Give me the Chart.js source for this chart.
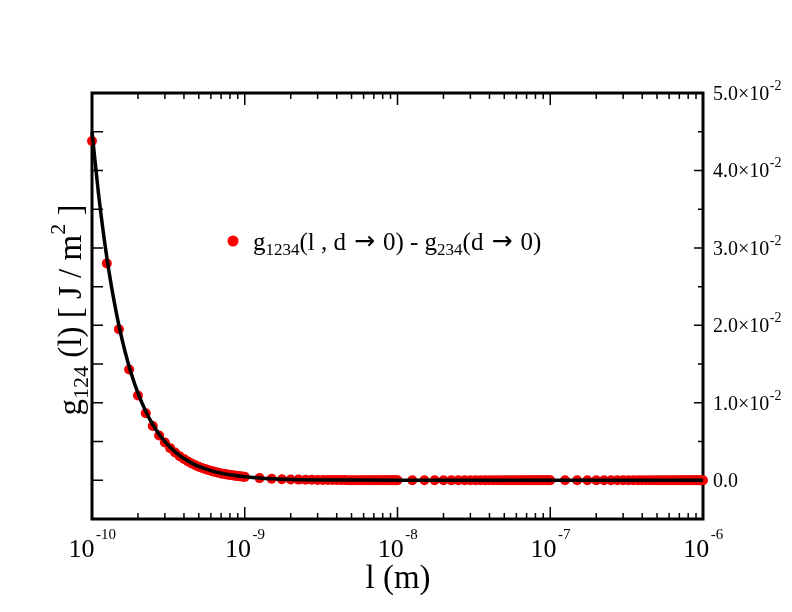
<!DOCTYPE html>
<html>
<head>
<meta charset="utf-8">
<script src="https://cdn.jsdelivr.net/npm/chart.js@4.4.1/dist/chart.umd.min.js"></script>
<style>
  html, body { margin: 0; padding: 0; background: #fff; }
</style>
</head>
<body>
<canvas id="myChart" width="792" height="612"></canvas>
<script>
// red symbols: g1234(l, d->0) - g234(d->0)
const lengthPoints = [
  1e-10, 1.25e-10, 1.5e-10, 1.75e-10, 2e-10, 2.25e-10, 2.5e-10, 2.75e-10, 3e-10, 3.25e-10, 3.5e-10, 3.75e-10,
  4e-10, 4.25e-10, 4.5e-10, 4.75e-10, 5e-10, 5.25e-10, 5.5e-10, 5.75e-10, 6e-10, 6.25e-10, 6.5e-10, 6.75e-10,
  7e-10, 7.25e-10, 7.5e-10, 7.75e-10, 8e-10, 8.25e-10, 8.5e-10, 8.75e-10, 9e-10, 9.25e-10, 9.5e-10, 9.75e-10,
  1e-9, 1.25e-9, 1.5e-9, 1.75e-9, 2e-9, 2.25e-9, 2.5e-9, 2.75e-9, 3e-9, 3.25e-9, 3.5e-9, 3.75e-9,
  4e-9, 4.25e-9, 4.5e-9, 4.75e-9, 5e-9, 5.25e-9, 5.5e-9, 5.75e-9, 6e-9, 6.25e-9, 6.5e-9, 6.75e-9,
  7e-9, 7.25e-9, 7.5e-9, 7.75e-9, 8e-9, 8.25e-9, 8.5e-9, 8.75e-9, 9e-9, 9.25e-9, 9.5e-9, 9.75e-9,
  1e-8, 1.25e-8, 1.5e-8, 1.75e-8, 2e-8, 2.25e-8, 2.5e-8, 2.75e-8, 3e-8, 3.25e-8, 3.5e-8, 3.75e-8,
  4e-8, 4.25e-8, 4.5e-8, 4.75e-8, 5e-8, 5.25e-8, 5.5e-8, 5.75e-8, 6e-8, 6.25e-8, 6.5e-8, 6.75e-8,
  7e-8, 7.25e-8, 7.5e-8, 7.75e-8, 8e-8, 8.25e-8, 8.5e-8, 8.75e-8, 9e-8, 9.25e-8, 9.5e-8, 9.75e-8,
  1e-7, 1.25e-7, 1.5e-7, 1.75e-7, 2e-7, 2.25e-7, 2.5e-7, 2.75e-7, 3e-7, 3.25e-7, 3.5e-7, 3.75e-7,
  4e-7, 4.25e-7, 4.5e-7, 4.75e-7, 5e-7, 5.25e-7, 5.5e-7, 5.75e-7, 6e-7, 6.25e-7, 6.5e-7, 6.75e-7,
  7e-7, 7.25e-7, 7.5e-7, 7.75e-7, 8e-7, 8.25e-7, 8.5e-7, 8.75e-7, 9e-7, 9.25e-7, 9.5e-7, 9.75e-7,
  1e-6
];
const gPoints = [
  0.0438, 0.0280, 0.0195, 0.0143, 0.01095, 0.00865, 0.00701, 0.00579, 0.00487, 0.00415, 0.00358, 0.00311,
  0.00274, 0.00242, 0.00216, 0.00194, 0.00175, 0.00159, 0.00145, 0.00132, 0.00122, 0.00112, 0.00104, 0.00096,
  0.00089, 0.00083, 0.00078, 0.00073, 0.00068, 0.00064, 0.00061, 0.00057, 0.00054, 0.00051, 0.00049, 0.00046,
  4.4e-4, 2.8e-4, 1.95e-4, 1.43e-4, 1.1e-4, 8.7e-5, 7e-5, 5.8e-5, 4.9e-5, 4.1e-5, 3.6e-5, 3.1e-5,
  2.7e-5, 2.4e-5, 2.2e-5, 1.9e-5, 1.8e-5, 1.6e-5, 1.4e-5, 1.3e-5, 1.2e-5, 1.1e-5, 1e-5, 1e-5,
  9e-6, 8e-6, 8e-6, 7e-6, 7e-6, 6e-6, 6e-6, 6e-6, 5e-6, 5e-6, 5e-6, 5e-6,
  0, 0, 0, 0, 0, 0, 0, 0, 0, 0, 0, 0,
  0, 0, 0, 0, 0, 0, 0, 0, 0, 0, 0, 0,
  0, 0, 0, 0, 0, 0, 0, 0, 0, 0, 0, 0,
  0, 0, 0, 0, 0, 0, 0, 0, 0, 0, 0, 0,
  0, 0, 0, 0, 0, 0, 0, 0, 0, 0, 0, 0,
  0, 0, 0, 0, 0, 0, 0, 0, 0, 0, 0, 0,
  0
];

// black curve
const lengthFit = [1e-10, 1.1e-10, 1.2e-10, 1.3e-10, 1.4e-10, 1.5e-10, 1.65e-10, 1.8e-10, 2e-10, 2.25e-10,
  2.5e-10, 2.75e-10, 3e-10, 3.5e-10, 4e-10, 4.5e-10, 5e-10, 6e-10, 7e-10, 8e-10, 1e-9, 1.3e-9, 1.6e-9,
  2e-9, 3e-9, 5e-9, 1e-8, 1e-7, 1e-6];
const gFit = [0.0450, 0.0372, 0.03125, 0.02663, 0.02296, 0.0200, 0.01653, 0.01389, 0.01125, 0.00889,
  0.0072, 0.00595, 0.0050, 0.00367, 0.00281, 0.00222, 0.0018, 0.00125, 0.00092, 0.0007, 0.00045, 0.00027, 0.00018,
  0.00011, 0.00005, 0.00002, 0.0000045, 0, 0];

const xDecades = [-10, -9, -8, -7, -6];
const yTicks = [0, 0.01, 0.02, 0.03, 0.04, 0.05];
const yTickText = ['0.0', '1.0', '2.0', '3.0', '4.0', '5.0'];

const serif = '"Liberation Serif", "Times New Roman", serif';
const arrowFont = '"DejaVu Sans", sans-serif';

// draw a run of text pieces {t, size, dy, gap, font} starting at x (or centred)
function drawParts(c, parts, x, y, align) {
  let total = 0;
  parts.forEach((p) => {
    c.font = p.size + 'px ' + (p.font || serif);
    p.w = c.measureText(p.t).width + (p.gap || 0);
    total += p.w;
  });
  let cx = align === 'center' ? x - total / 2 : x;
  parts.forEach((p) => {
    c.font = p.size + 'px ' + (p.font || serif);
    c.fillText(p.t, cx + (p.gap || 0) / 2, y + (p.dy || 0));
    cx += p.w;
  });
}

const decorations = {
  id: 'decorations',
  beforeDatasetsDraw(chart) {
    const c = chart.ctx;
    const a = chart.chartArea;
    c.save();
    c.strokeStyle = '#000';
    c.lineWidth = 3;
    c.strokeRect(a.left, a.top, a.right - a.left, a.bottom - a.top);
    c.restore();
  },
  afterDatasetsDraw(chart) {
    const c = chart.ctx;
    const a = chart.chartArea;
    const xs = chart.scales.x;
    const ys = chart.scales.y;
    c.save();
    c.strokeStyle = '#000';
    c.fillStyle = '#000';
    c.lineWidth = 1.5;
    c.textBaseline = 'alphabetic';
    c.textAlign = 'left';

    // x ticks, top and bottom, pointing in
    xDecades.forEach((d, i) => {
      const base = Math.pow(10, d);
      const px = xs.getPixelForValue(base);
      c.beginPath();
      c.moveTo(px, a.bottom); c.lineTo(px, a.bottom - 12);
      c.moveTo(px, a.top); c.lineTo(px, a.top + 12);
      c.stroke();
      if (i < xDecades.length - 1) {
        for (let m = 2; m <= 9; m++) {
          const mx = xs.getPixelForValue(m * base);
          c.beginPath();
          c.moveTo(mx, a.bottom); c.lineTo(mx, a.bottom - 6);
          c.moveTo(mx, a.top); c.lineTo(mx, a.top + 6);
          c.stroke();
        }
      }
      drawParts(c, [
        { t: '10', size: 26 },
        { t: String(d), size: 15, dy: -18, gap: 3 }
      ], px + 1, 557, 'center');
    });

    // y ticks, left and right, pointing in
    for (let k = 0; k <= 10; k++) {
      const v = k * 0.005;
      const py = ys.getPixelForValue(v);
      const major = k % 2 === 0;
      c.beginPath();
      c.moveTo(a.left, py); c.lineTo(a.left + 11, py);
      c.moveTo(a.right, py); c.lineTo(a.right - (major ? 9 : 5), py);
      c.stroke();
    }
    yTicks.forEach((v, i) => {
      const py = ys.getPixelForValue(v);
      if (v === 0) {
        drawParts(c, [{ t: yTickText[i], size: 20 }], 713, py + 7);
      } else {
        drawParts(c, [
          { t: yTickText[i] + '\u00d710', size: 20 },
          { t: '-2', size: 14, dy: -10, gap: 1 }
        ], 713, py + 7);
      }
    });

    // x title
    drawParts(c, [{ t: 'l (m)', size: 33 }], 398, 588, 'center');

    // y title, rotated
    c.save();
    c.translate(81, 310);
    c.rotate(-Math.PI / 2);
    drawParts(c, [
      { t: 'g', size: 33 },
      { t: '124', size: 22, dy: 7 },
      { t: ' (l) [ J / m', size: 33 },
      { t: '2', size: 22, dy: -16 },
      { t: ' ]', size: 33 }
    ], 0, 0, 'center');
    c.restore();

    // legend
    c.fillStyle = 'rgb(255,0,0)';
    c.beginPath();
    c.arc(233, 241, 5.5, 0, Math.PI * 2);
    c.fill();
    c.fillStyle = '#000';
    drawParts(c, [
      { t: 'g', size: 25 },
      { t: '1234', size: 17, dy: 5 },
      { t: '(l , d', size: 25 },
      { t: '\u2192', size: 25, font: arrowFont, gap: 16, dy: -1 },
      { t: '0) - g', size: 25 },
      { t: '234', size: 17, dy: 5 },
      { t: '(d', size: 25 },
      { t: '\u2192', size: 25, font: arrowFont, gap: 16, dy: -1 },
      { t: '0)', size: 25 }
    ], 253, 250);

    c.restore();
  }
};

const ctx = document.getElementById('myChart');
const myChart = new Chart(ctx, {
  type: 'scatter',
  data: {
    datasets: [
      {
        label: 'g1234 - g234',
        data: lengthPoints.map((l, i) => ({ x: l, y: gPoints[i] })),
        backgroundColor: 'rgb(240,0,0)',
        borderWidth: 0,
        pointRadius: 5,
        clip: false,
        order: 2,
      },
      {
        label: 'fit',
        data: lengthFit.map((l, i) => ({ x: l, y: gFit[i] })),
        showLine: true,
        borderColor: '#000',
        borderWidth: 3.5,
        pointRadius: 0,
        cubicInterpolationMode: 'monotone',
        clip: false,
        order: 1,
      },
    ],
  },
  options: {
    responsive: false,
    animation: false,
    devicePixelRatio: 1,
    layout: {
      padding: { left: 92, right: 89, top: 93, bottom: 93 },
    },
    scales: {
      x: { type: 'logarithmic', min: 1e-10, max: 1e-6, display: false },
      y: { type: 'linear', min: -0.005, max: 0.05, display: false },
    },
    plugins: {
      legend: { display: false },
      tooltip: { enabled: false },
    },
  },
  plugins: [decorations],
});
</script>
</body>
</html>
